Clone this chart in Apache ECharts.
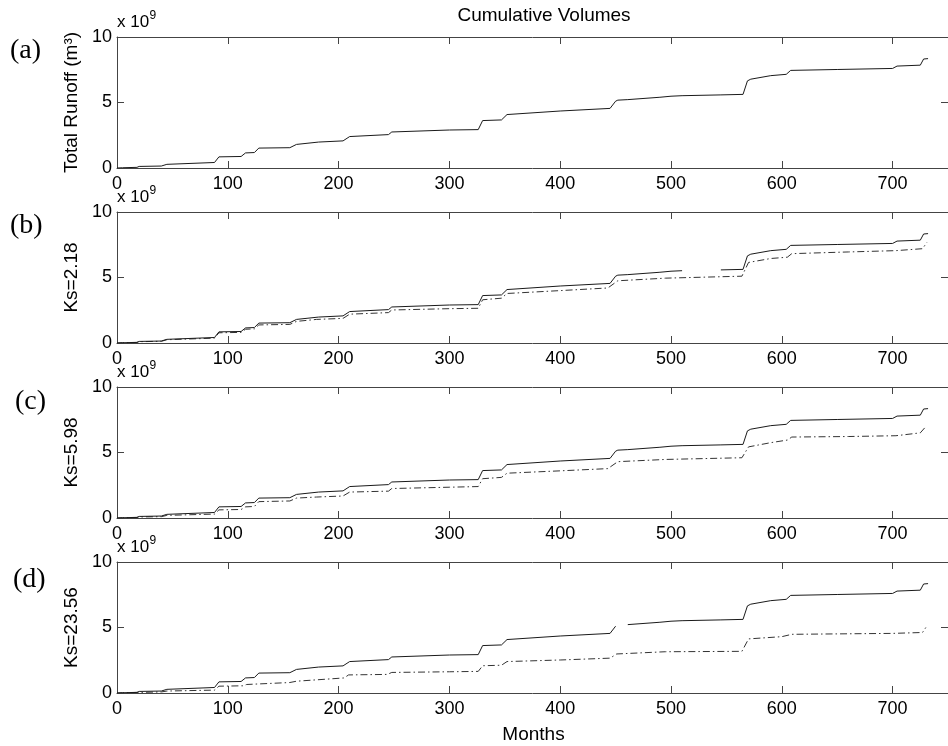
<!DOCTYPE html>
<html>
<head>
<meta charset="utf-8">
<script src="https://cdn.jsdelivr.net/npm/echarts@6/dist/echarts.min.js"></script>
<style>html,body{margin:0;padding:0;background:#fff;}#chart{width:948px;height:746px;}</style>
</head>
<body>
<div id="chart"></div>
<script>
// Values in units of 10^9 m^3, x in months
const xTicks = [0, 100, 200, 300, 400, 500, 600, 700];
const yTicks = [0, 5, 10];
const panelLabels = ['(a)', '(b)', '(c)', '(d)'];
const yNames = ['Total Runoff (m\u00b3)', 'Ks=2.18', 'Ks=5.98', 'Ks=23.56'];

const totalRunoff = [[0,0],[5,0.02],[18,0.05],[20,0.12],[40,0.15],[45,0.28],[88,0.42],[92,0.85],[112,0.88],[116,1.15],[124,1.18],[128,1.52],[156,1.55],[162,1.8],[182,1.98],[204,2.07],[210,2.4],[245,2.55],[248,2.75],[300,2.9],[326,2.93],[330,3.62],[347,3.67],[352,4.08],[400,4.35],[445,4.55],[450,5.1],[452,5.18],[461,5.22],[490,5.4],[500,5.48],[510,5.52],[545,5.58],[565,5.62],[569,6.65],[572,6.78],[590,7.05],[604,7.15],[608,7.45],[650,7.52],[700,7.6],[704,7.78],[725,7.85],[728,8.32],[732,8.35]];

const ks218 = [[0,0],[5,0.02],[18,0.04],[20,0.1],[40,0.13],[45,0.25],[88,0.37],[92,0.78],[112,0.81],[116,1.05],[124,1.08],[128,1.38],[156,1.42],[162,1.65],[180,1.8],[204,1.88],[210,2.2],[245,2.32],[248,2.52],[300,2.62],[326,2.65],[330,3.3],[347,3.42],[352,3.78],[400,4.0],[443,4.2],[452,4.75],[495,4.95],[564,5.1],[570,6.15],[590,6.45],[605,6.55],[609,6.82],[660,6.95],[703,7.05],[727,7.2],[731,7.68]];

const ks598 = [[0,0],[5,0.02],[18,0.04],[20,0.08],[40,0.1],[45,0.2],[88,0.3],[92,0.62],[112,0.65],[116,0.85],[124,0.88],[128,1.25],[156,1.3],[162,1.52],[180,1.6],[204,1.68],[210,1.98],[245,2.05],[248,2.25],[300,2.35],[326,2.4],[330,3.0],[347,3.1],[352,3.42],[400,3.6],[443,3.77],[452,4.3],[495,4.47],[564,4.6],[570,5.43],[590,5.75],[605,5.95],[609,6.18],[660,6.22],[703,6.28],[725,6.5],[730,6.98]];

const ks2356 = [[0,0],[5,0.02],[40,0.08],[45,0.15],[88,0.22],[92,0.52],[114,0.55],[117,0.65],[156,0.8],[162,0.9],[205,1.15],[209,1.38],[244,1.42],[248,1.57],[300,1.62],[326,1.65],[330,2.08],[347,2.12],[352,2.4],[400,2.52],[445,2.66],[451,2.98],[495,3.15],[564,3.18],[570,4.13],[600,4.3],[609,4.48],[660,4.52],[700,4.55],[727,4.62],[730,5.0]];

// months where the solid curve is missing in the original panels
const gapA = null;
const gapB = [510, 545];
const gapC = null;
const gapD = [450, 461];

const simSeries = [null, ks218, ks598, ks2356];
const gaps = [gapA, gapB, gapC, gapD];

function withGap(data, gap) {
  if (!gap) return data;
  const out = [];
  for (const p of data) {
    if (p[0] > gap[0] && p[0] < gap[1]) continue;
    out.push(p);
    if (p[0] === gap[0]) out.push(null);
  }
  return out;
}

const L = { left: 117, width: 837, height: 131, tops: [37, 212, 387, 562] };
const FONT = 'Liberation Sans, Arial, Helvetica, sans-serif';
const axisColor = '#444';

const grids = [], xAxes = [], yAxes = [], series = [], graphics = [];
for (let i = 0; i < 4; i++) {
  const top = L.tops[i];
  grids.push({ left: L.left, top: top, width: L.width, height: L.height });
  xAxes.push({
    gridIndex: i, type: 'value', min: 0, max: 750, position: 'bottom',
    axisLine: { show: true, onZero: false, lineStyle: { color: axisColor, width: 1 } },
    axisTick: { show: true, inside: true, length: 7, customValues: xTicks, lineStyle: { color: axisColor } },
    axisLabel: { show: true, customValues: xTicks, fontSize: 18, color: '#000', margin: 7, fontFamily: FONT },
    splitLine: { show: false }
  });
  xAxes.push({
    gridIndex: i, type: 'value', min: 0, max: 750, position: 'top',
    axisLine: { show: true, onZero: false, lineStyle: { color: axisColor, width: 1 } },
    axisTick: { show: true, inside: true, length: 7, customValues: xTicks, lineStyle: { color: axisColor } },
    axisLabel: { show: false }, splitLine: { show: false }
  });
  yAxes.push({
    gridIndex: i, type: 'value', min: 0, max: 10, position: 'left',
    name: yNames[i], nameLocation: 'middle', nameRotate: 90, nameGap: 36,
    nameTextStyle: { fontSize: 19, color: '#000', fontFamily: FONT },
    axisLine: { show: true, onZero: false, lineStyle: { color: axisColor, width: 1 } },
    axisTick: { show: true, inside: true, length: 7, customValues: yTicks, lineStyle: { color: axisColor } },
    axisLabel: { show: true, customValues: yTicks, fontSize: 18, color: '#000', margin: 5, fontFamily: FONT },
    splitLine: { show: false }
  });
  yAxes.push({
    gridIndex: i, type: 'value', min: 0, max: 10, position: 'right',
    axisLine: { show: true, onZero: false, lineStyle: { color: axisColor, width: 1 } },
    axisTick: { show: true, inside: true, length: 7, customValues: yTicks, lineStyle: { color: axisColor } },
    axisLabel: { show: false }, splitLine: { show: false }
  });
  if (simSeries[i]) {
    series.push({
      type: 'line', xAxisIndex: 2 * i, yAxisIndex: 2 * i, data: simSeries[i],
      showSymbol: false, symbol: 'none', silent: true, animation: false, z: 2,
      lineStyle: { color: '#333', width: 1, type: [7, 3, 1.5, 3] }
    });
  }
  series.push({
    type: 'line', xAxisIndex: 2 * i, yAxisIndex: 2 * i, data: withGap(totalRunoff, gaps[i]),
    showSymbol: false, symbol: 'none', silent: true, animation: false, z: 3, connectNulls: false,
    lineStyle: { color: '#1a1a1a', width: 1, type: 'solid' }
  });
  graphics.push({
    type: 'text', left: 117, top: top - 14.5 - 9,
    style: { text: 'x 10', fontSize: 17, fill: '#000', fontFamily: FONT, verticalAlign: 'top' }
  });
  graphics.push({
    type: 'text', left: 149.5, top: top - 27,
    style: { text: '9', fontSize: 12, fill: '#000', fontFamily: FONT, verticalAlign: 'top' }
  });
}
const labelPos = [[10, 51], [10, 226], [15, 402], [13, 580]];
for (let i = 0; i < 4; i++) {
  graphics.push({
    type: 'text', x: labelPos[i][0], y: labelPos[i][1],
    style: { text: panelLabels[i], fontSize: 28, fill: '#000', fontFamily: 'Liberation Serif, Times New Roman, serif',
      align: 'left', verticalAlign: 'middle' }
  });
}
graphics.push({
  type: 'text', x: 544, y: 16,
  style: { text: 'Cumulative Volumes', fontSize: 19, fill: '#000', fontFamily: FONT, align: 'center', verticalAlign: 'middle' }
});
graphics.push({
  type: 'text', x: 533.5, y: 734.5,
  style: { text: 'Months', fontSize: 19, fill: '#000', fontFamily: FONT, align: 'center', verticalAlign: 'middle' }
});

const chart = echarts.init(document.getElementById('chart'), null, { renderer: 'canvas' });
chart.setOption({
  backgroundColor: '#fff',
  animation: false,
  grid: grids, xAxis: xAxes, yAxis: yAxes, series: series, graphic: graphics
});
</script>
</body>
</html>
